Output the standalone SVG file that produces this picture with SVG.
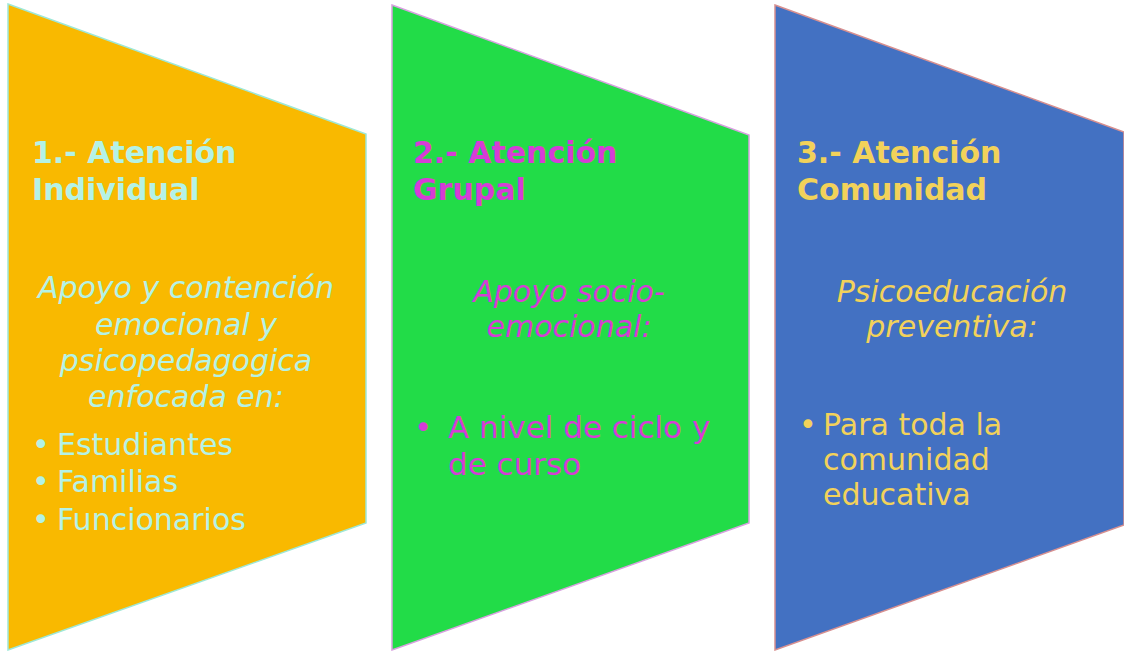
<svg xmlns="http://www.w3.org/2000/svg" width="1124" height="651" viewBox="0 0 1124 651">
<style>
text{font-family:"DejaVu Sans","Verdana",sans-serif;font-size:30px}
.t{font-weight:bold}
.i{font-style:italic}
.c{text-anchor:middle}
.b2{font-size:31px}
.p1 text{fill:#b4f2e6}
.p2 text{fill:#d63cd6}
.p3 text{fill:#f2d25a}
</style>
<rect width="1124" height="651" fill="#ffffff"/>
<g id="panel1" class="p1">
<polygon points="8,4 366,134 366,523 8,650" fill="#f9b900" stroke="#9ee8d8" stroke-width="1.5"/>
<text class="t" x="32" y="163">1.- Atención</text>
<text class="t" x="32" y="200">Individual</text>
<text class="i c" x="186" y="298">Apoyo y contención</text>
<text class="i c" x="186" y="335">emocional y</text>
<text class="i c" x="186" y="371">psicopedagogica</text>
<text class="i c" x="186" y="407">enfocada en:</text>
<text x="32" y="455">•</text><text x="57" y="455">Estudiantes</text>
<text x="32" y="492">•</text><text x="57" y="492">Familias</text>
<text x="32" y="530">•</text><text x="57" y="530">Funcionarios</text>
</g>
<g id="panel2" class="p2">
<polygon points="392,5 749,135 749,523 392,650" fill="#22dc48" stroke="#d8a0e0" stroke-width="1.5"/>
<text class="t" x="413" y="163">2.- Atención</text>
<text class="t" x="413" y="200">Grupal</text>
<text class="i c" x="569" y="302">Apoyo socio-</text>
<text class="i c" x="569" y="337">emocional:</text>
<text class="b2" x="414" y="438">•</text><text class="b2" x="448" y="438">A nivel de ciclo y</text>
<text class="b2" x="448" y="475">de curso</text>
</g>
<g id="panel3" class="p3">
<polygon points="775,5 1124,132 1124,525 775,650" fill="#4371c2" stroke="#d89090" stroke-width="1.5"/>
<text class="t" x="797" y="163">3.- Atención</text>
<text class="t" x="797" y="200">Comunidad</text>
<text class="i c" x="952" y="302">Psicoeducación</text>
<text class="i c" x="952" y="337">preventiva:</text>
<text x="799" y="435">•</text><text x="823" y="435">Para toda la</text>
<text x="823" y="470">comunidad</text>
<text x="823" y="505">educativa</text>
</g>
</svg>
